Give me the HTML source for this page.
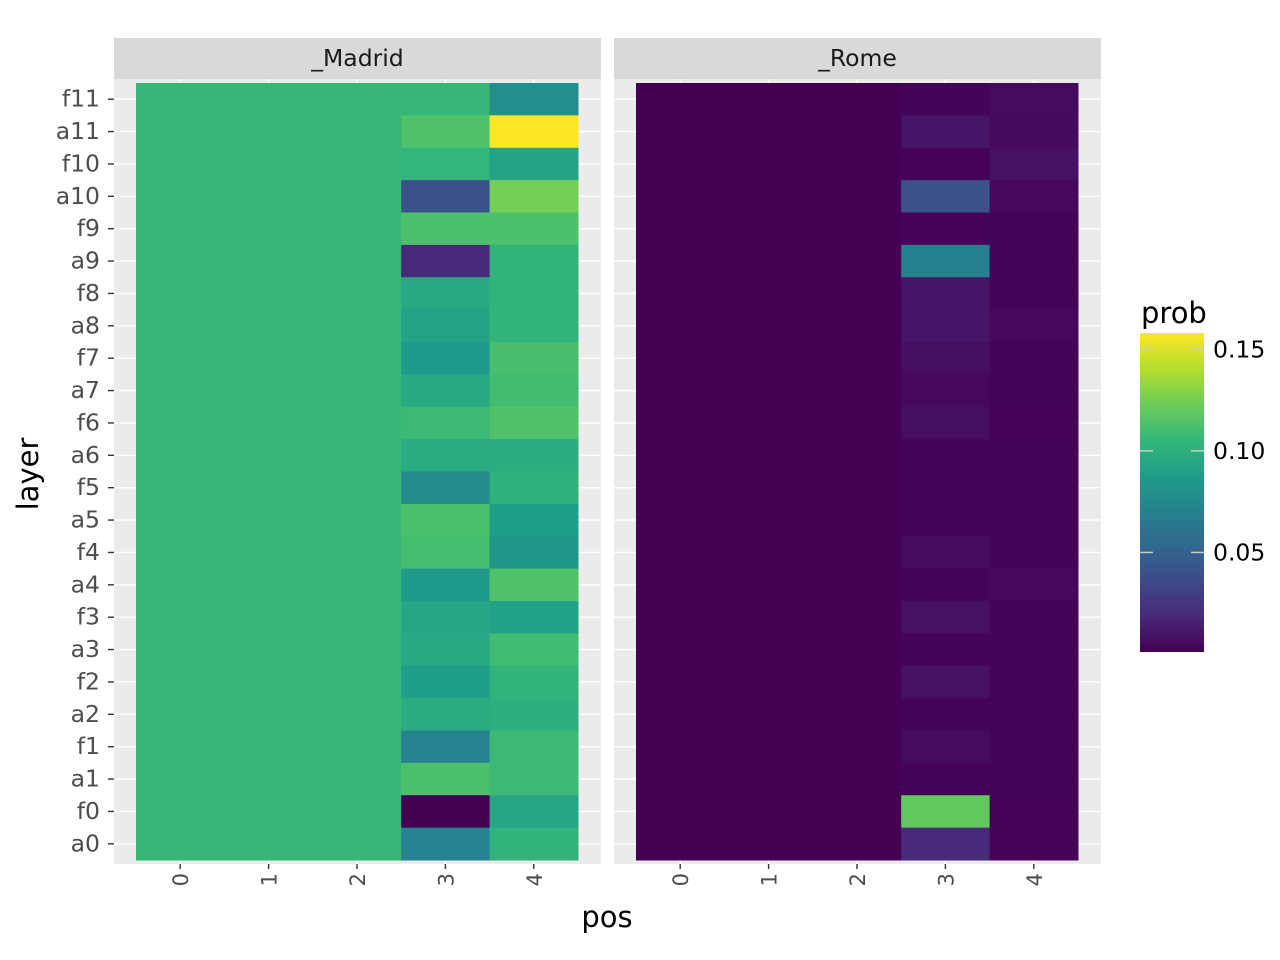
<!DOCTYPE html>
<html><head><meta charset="utf-8"><style>
body{margin:0;background:#fff}
svg{display:block;font-family:"DejaVu Sans","Liberation Sans",sans-serif}
</style></head><body>
<svg id="chart" width="1280" height="960" viewBox="0 0 1280 960" xmlns="http://www.w3.org/2000/svg"></svg>
<script>
const layers = ["f11","a11","f10","a10","f9","a9","f8","a8","f7","a7","f6","a6","f5","a5","f4","a4","f3","a3","f2","a2","f1","a1","f0","a0"];
const positions = ["0","1","2","3","4"];
const panels = ["_Madrid","_Rome"];
const madridBase = 0.106;
const romeBase = 0.001;
const madridPos3 = [0.106,0.114,0.104,0.040,0.113,0.020,0.095,0.092,0.086,0.096,0.108,0.097,0.076,0.113,0.111,0.086,0.094,0.095,0.088,0.098,0.071,0.113,0.001,0.071];
const madridPos4 = [0.078,0.158,0.092,0.125,0.113,0.103,0.103,0.103,0.112,0.110,0.114,0.099,0.101,0.088,0.083,0.114,0.090,0.109,0.103,0.100,0.108,0.108,0.094,0.103];
const romePos3 = [0.003,0.010,0.002,0.040,0.002,0.070,0.010,0.010,0.007,0.004,0.007,0.003,0.003,0.003,0.006,0.003,0.008,0.003,0.008,0.003,0.006,0.003,0.120,0.020];
const romePos4 = [0.006,0.005,0.008,0.004,0.003,0.003,0.003,0.004,0.003,0.003,0.002,0.003,0.003,0.003,0.003,0.004,0.003,0.003,0.003,0.003,0.003,0.003,0.002,0.002];
const legendTicks = [0.05,0.10,0.15];
const legendLabels = ["0.05","0.10","0.15"];
const vmin = 0.001, vmax = 0.158;

const NS="http://www.w3.org/2000/svg";
const svg=document.getElementById('chart');
function mk(tag,attrs,parent){const e=document.createElementNS(NS,tag);for(const k in attrs)e.setAttribute(k,attrs[k]);(parent||svg).appendChild(e);return e;}
const vstops=[[68,1,84],[72,40,120],[62,74,137],[49,104,142],[38,130,142],[31,158,137],[53,183,121],[109,205,89],[180,222,44],[253,231,37]];
function viridis(t){t=Math.max(0,Math.min(1,t));const p=t*(vstops.length-1);const i=Math.min(Math.floor(p),vstops.length-2);const f=p-i;const a=vstops[i],b=vstops[i+1];return `rgb(${Math.round(a[0]+(b[0]-a[0])*f)},${Math.round(a[1]+(b[1]-a[1])*f)},${Math.round(a[2]+(b[2]-a[2])*f)})`;}
function color(v){return viridis((v-vmin)/(vmax-vmin));}

const panelX=[114,614], panelW=487, plotTop=79, plotBot=864;
const tileX0=136-114, colW=88.4, rowTop=83, rowH=32.375;
function xScale(pi,ci){return panelX[pi]+tileX0+ci*colW;}
function yScale(ri){return rowTop+ri*rowH;}

const data=[
 layers.map((_,r)=>[madridBase,madridBase,madridBase,madridPos3[r],madridPos4[r]]),
 layers.map((_,r)=>[romeBase,romeBase,romeBase,romePos3[r],romePos4[r]])
];

panels.forEach((name,pi)=>{
  const g=mk('g',{});
  
  
  const bg=mk('rect',{x:panelX[pi],y:plotTop,width:panelW,height:plotBot-plotTop,fill:'#ebebeb'},g);
  
  
  layers.forEach((l,ri)=>{const y=yScale(ri)+rowH/2;const ln=mk('line',{x1:panelX[pi],x2:panelX[pi]+panelW,y1:y,y2:y,stroke:'#fff','stroke-width':1.4},g);
    
    });
  positions.forEach((p,ci)=>{const x=xScale(pi,ci)+colW/2;const ln=mk('line',{x1:x,x2:x,y1:plotTop,y2:plotBot,stroke:'#fff','stroke-width':1.4},g);
    
    });
  data[pi].forEach((row,ri)=>row.forEach((v,ci)=>{
    const r=mk('rect',{x:xScale(pi,ci),y:yScale(ri),width:colW+0.5,height:rowH+0.5,fill:color(v)},g);
    
    
  }));
  const st=mk('rect',{x:panelX[pi],y:38,width:panelW,height:41,fill:'#d9d9d9'},g);
  
  
  const sl=mk('text',{x:panelX[pi]+panelW/2,y:66,'text-anchor':'middle','font-size':23.5,fill:'#1a1a1a'},g);
  sl.textContent=name;
  
  
  positions.forEach((p,ci)=>{const x=xScale(pi,ci)+colW/2;
    const tk=mk('line',{x1:x,x2:x,y1:plotBot,y2:plotBot+5,stroke:'#333','stroke-width':1.4},g);
    
    
    const t=mk('text',{x:0,y:0,transform:`translate(${x+8},${plotBot+9}) rotate(-90)`,'text-anchor':'end','font-size':21,fill:'#4d4d4d'},g);
    t.textContent=p;
    
    });
});
layers.forEach((l,ri)=>{const y=yScale(ri)+rowH/2;
  const tk=mk('line',{x1:108,x2:114,y1:y,y2:y,stroke:'#333','stroke-width':1.4});
  
  
  const t=mk('text',{x:100,y:y+7.5,'text-anchor':'end','font-size':23.5,fill:'#4d4d4d'});
  t.textContent=l;
  
  });
const xt=mk('text',{x:607,y:927,'text-anchor':'middle','font-size':29,fill:'#000'});
xt.textContent='pos';


const yt=mk('text',{x:0,y:0,transform:'translate(38,474) rotate(-90)','text-anchor':'middle','font-size':29,fill:'#000'});
yt.textContent='layer';



// legend
const lg=mk('g',{});


const defs=mk('defs',{},lg);
const grad=mk('linearGradient',{id:'vg',x1:0,y1:1,x2:0,y2:0},defs);
vstops.forEach((s,i)=>mk('stop',{offset:i/(vstops.length-1),'stop-color':`rgb(${s[0]},${s[1]},${s[2]})`},grad));
const lgTop=333,lgBot=652;
function lgY(v){return lgBot-(v-vmin)/(vmax-vmin)*(lgBot-lgTop);}
const bar=mk('rect',{x:1140,y:lgTop,width:64,height:lgBot-lgTop,fill:'url(#vg)'},lg);


const lt=mk('text',{x:1141,y:323,'font-size':29,fill:'#000'},lg);
lt.textContent='prob';


legendTicks.forEach((v,i)=>{const y=lgY(v);
  mk('line',{x1:1140,x2:1153,y1:y,y2:y,stroke:'#ccc','stroke-width':1.5},lg);
  mk('line',{x1:1191,x2:1204,y1:y,y2:y,stroke:'#ccc','stroke-width':1.5},lg);
  const t=mk('text',{x:1213,y:y+8,'font-size':23.5,fill:'#000'},lg);
  t.textContent=legendLabels[i];
  
  });
</script>
</body></html>
